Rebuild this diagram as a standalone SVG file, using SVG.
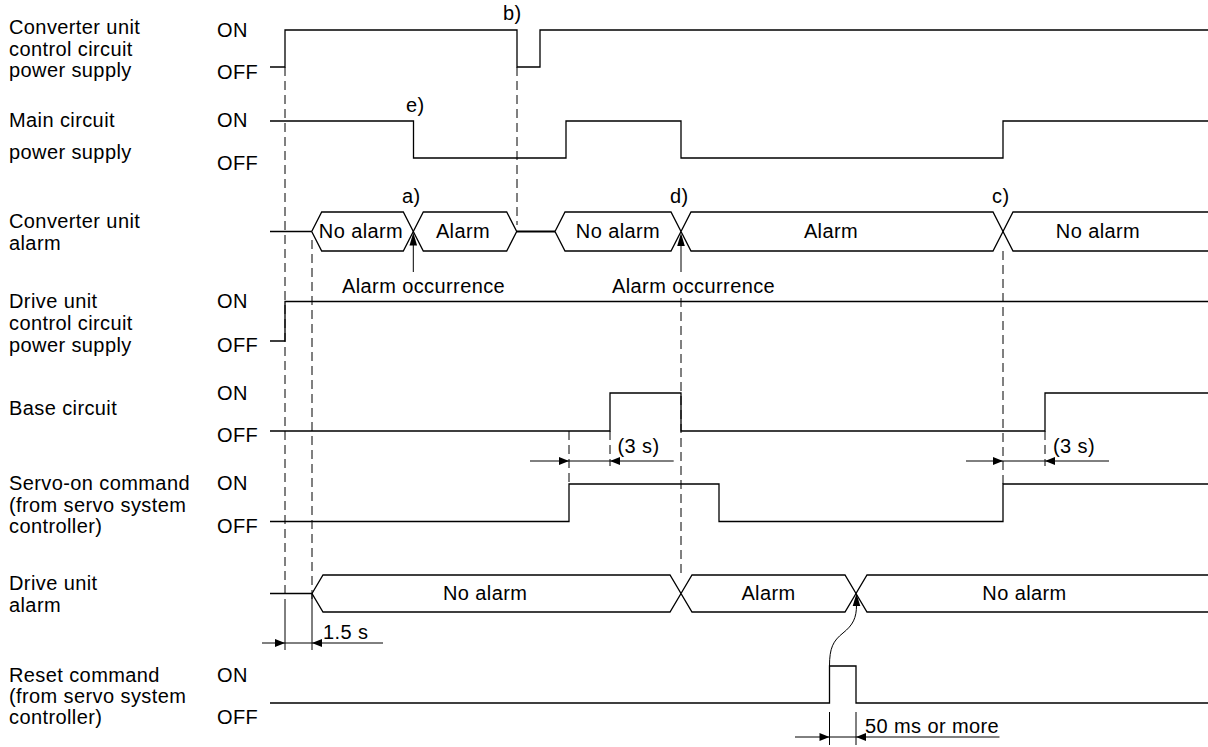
<svg xmlns="http://www.w3.org/2000/svg" width="1208" height="747" viewBox="0 0 1208 747">
<style>
text{font-family:"Liberation Sans",Arial,sans-serif;font-size:20px;fill:#000;letter-spacing:0.4px}
.m{text-anchor:middle}
.w{fill:none;stroke:#000;stroke-width:1.3}
.h{fill:#fff;stroke:#000;stroke-width:1.3}
.d{fill:none;stroke:#000;stroke-width:1;stroke-dasharray:9 5}
.s{fill:none;stroke:#000;stroke-width:1}
.a{fill:#000;stroke:none}
</style>
<rect width="1208" height="747" fill="#fff"/>
<g id="conv-power">
<text x="9" y="34">Converter unit</text><text x="9" y="55.5">control circuit</text><text x="9" y="77">power supply</text>
<text x="217" y="37">ON</text><text x="217" y="79">OFF</text>
<path class="w" d="M270,67H285V30H517V67H540V30H1208"/>
<text x="503" y="20">b)</text>
</g>
<g id="main-power">
<text x="9" y="127">Main circuit</text><text x="9" y="159">power supply</text>
<text x="217" y="127">ON</text><text x="217" y="170">OFF</text>
<path class="w" d="M270,121H413.5V158H566V121H681V158H1003V121H1208"/>
<text x="406" y="112">e)</text>
</g>
<g id="conv-alarm">
<text x="9" y="228">Converter unit</text><text x="9" y="250">alarm</text>
<path class="w" d="M270,231.5H311.7"/>
<polygon class="h" points="311.7,231.5 321.7,212 403.3,212 413.3,231.5 403.3,251 321.7,251"/>
<polygon class="h" points="413.3,231.5 423.3,212 506.7,212 516.7,231.5 506.7,251 423.3,251"/>
<path fill="none" stroke="#000" stroke-width="2.2" d="M516.7,231.5H555"/>
<polygon class="h" points="555,231.5 565,212 671,212 681,231.5 671,251 565,251"/>
<polygon class="h" points="681,231.5 691,212 993,212 1003,231.5 993,251 691,251"/>
<path class="w" d="M1208,212H1013L1003,231.5L1013,251H1208"/>
<text class="m" x="361" y="238">No alarm</text>
<text class="m" x="463" y="238">Alarm</text>
<text class="m" x="618" y="238">No alarm</text>
<text class="m" x="831" y="238">Alarm</text>
<text class="m" x="1098" y="238">No alarm</text>
<text x="402" y="203">a)</text><text x="670" y="203">d)</text><text x="992" y="203">c)</text>
<text x="342" y="293">Alarm occurrence</text>
<text x="612" y="293">Alarm occurrence</text>
</g>
<g id="drive-power">
<text x="9" y="308">Drive unit</text><text x="9" y="330">control circuit</text><text x="9" y="351.5">power supply</text>
<text x="217" y="308">ON</text><text x="217" y="352">OFF</text>
<path class="w" d="M270,341H285V301.5H1208"/>
</g>
<g id="base-circuit">
<text x="9" y="415">Base circuit</text>
<text x="217" y="400">ON</text><text x="217" y="442">OFF</text>
<path class="w" d="M270,431H610V393H681V431H1045V393H1208"/>
</g>
<g id="servo-on">
<text x="9" y="490">Servo-on command</text><text x="9" y="511.5">(from servo system</text><text x="9" y="533">controller)</text>
<text x="217" y="490">ON</text><text x="217" y="533">OFF</text>
<path class="w" d="M270,521.5H569V484H719V521.5H1003V484H1208"/>
</g>
<g id="drive-alarm">
<text x="9" y="590">Drive unit</text><text x="9" y="612">alarm</text>
<path class="w" d="M270,593.5H312"/>
<polygon class="h" points="312,593.5 323,575 670,575 681,593.5 670,612 323,612"/>
<polygon class="h" points="681,593.5 692,575 845,575 856,593.5 845,612 692,612"/>
<path class="w" d="M1208,575H867L856,593.5L867,612H1208"/>
<text x="443" y="600">No alarm</text>
<text class="m" x="768.5" y="600">Alarm</text>
<text class="m" x="1024.5" y="600">No alarm</text>
</g>
<g id="reset">
<text x="9" y="681.5">Reset command</text><text x="9" y="702.5">(from servo system</text><text x="9" y="723.5">controller)</text>
<text x="217" y="682">ON</text><text x="217" y="723.5">OFF</text>
<path class="w" d="M270,703H829.5V666H856V703H1208"/>
</g>
<g id="connectors">
<path class="d" d="M285,67V600M312,240V600M517,67V225M681,298V577M1003,251V484M569,431V484M610,431V466M1045,431V466"/>
<path class="s" d="M285,600V650M312,593.5V650"/>
<path class="s" d="M413.3,272V245M681,272V246"/>
<polygon class="a" points="413.3,232.5 409.5,245.5 417.1,245.5"/>
<polygon class="a" points="681,233 677.2,246 684.8,246"/>
<path class="s" d="M530,461H673.7M966,461H1109M262,643H383M795,737H999.5M829.5,712V745M856,712V745"/>
<polygon class="a" points="559,457 569,461 559,465"/><polygon class="a" points="620,457 610,461 620,465"/>
<polygon class="a" points="993,457 1003,461 993,465"/><polygon class="a" points="1055,457 1045,461 1055,465"/>
<polygon class="a" points="275,639 285,643 275,647"/><polygon class="a" points="322,639 312,643 322,647"/>
<polygon class="a" points="819.5,733 829.5,737 819.5,741"/><polygon class="a" points="866,733 856,737 866,741"/>
<path class="s" d="M829.5,666C829.5,648 833,641 843,633C853,625 856.5,618 856.5,605"/>
<polygon class="a" points="856.5,593.5 852.7,606 860.3,606"/>
<text x="617.5" y="453">(3 s)</text>
<text x="1053" y="453">(3 s)</text>
<text x="323" y="639">1.5 s</text>
<text x="865" y="733">50 ms or more</text>
</g>
</svg>
